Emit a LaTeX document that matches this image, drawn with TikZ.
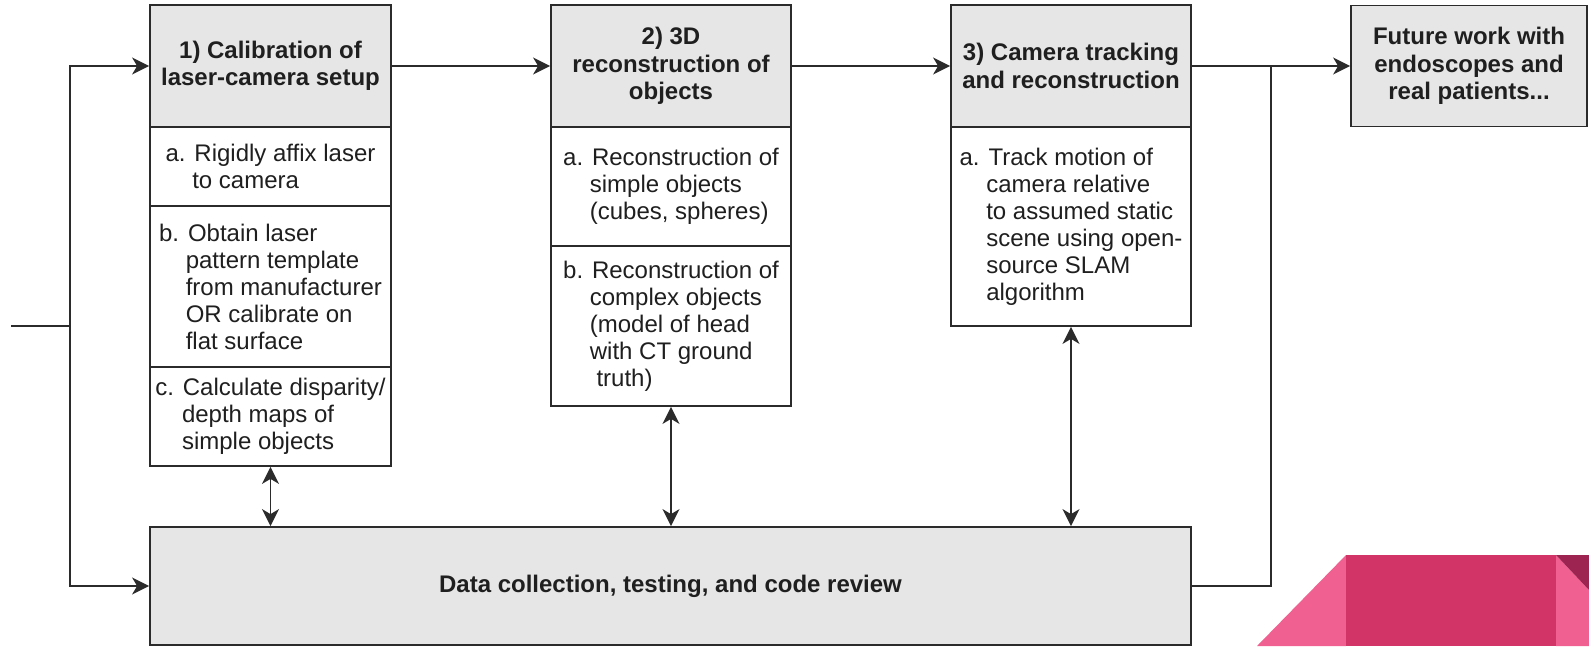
\documentclass[tikz,border=0pt]{standalone}
\usepackage{fontspec}
\setmainfont{Liberation Sans}
\usetikzlibrary{arrows.meta}
\definecolor{hdrgray}{HTML}{E6E6E6}
\definecolor{linegray}{HTML}{2B2B2B}
\definecolor{pinklight}{HTML}{F06090}
\definecolor{pinkmid}{HTML}{D23468}
\definecolor{pinkdark}{HTML}{9D2350}
\newcommand{\ind}{\hphantom{a.\ }}
\tikzset{
  boxbase/.style={draw=linegray, line width=1.8pt, rectangle, inner sep=2pt,
    font=\fontsize{24}{27}\selectfont, text=black!88},
  hdr/.style={boxbase, fill=hdrgray, align=center, font=\fontsize{24}{27.5}\selectfont\bfseries},
  sub/.style={boxbase, fill=white, align=left},
  conn/.style={draw=linegray, line width=1.8pt},
  tip/.tip={Stealth[length=17pt, width=17pt, inset=5pt]},
  arr/.style={conn, -tip},
  dblarr/.style={conn, tip-tip},
}
\begin{document}
\begin{tikzpicture}[x=1pt, y=-1pt]
\useasboundingbox (0,0) rectangle (1589,646);
% decorative ribbon
\fill[pinklight] (1257,646) -- (1346,555) -- (1346,646) -- cycle;
\fill[pinkmid] (1346,555) rectangle (1556,646);
\fill[pinklight] (1556,555) -- (1589,590) -- (1589,646) -- (1556,646) -- cycle;
\fill[pinkdark] (1556,555) -- (1589,555) -- (1589,590) -- cycle;

% box 1
\node[hdr, minimum width=241, minimum height=122] (h1) at (270.5,66) {1) Calibration of\\laser-camera setup};
\node[sub, minimum width=241, minimum height=79] (a1) at (270.5,166.5) {a. Rigidly affix laser\\\ind to camera};
\node[sub, minimum width=241, minimum height=161] (b1) at (270.5,286.5) {b. Obtain laser\\\ind pattern template\\\ind from manufacturer\\\ind OR calibrate on\\\ind flat surface};
\node[sub, minimum width=241, minimum height=99] (c1) at (270.5,416.5) {c. Calculate disparity/\\\ind depth maps of\\\ind simple objects};

% box 2
\node[hdr, minimum width=240, minimum height=122] (h2) at (671,66) {2) 3D\\reconstruction of\\objects};
\node[sub, minimum width=240, minimum height=119] (a2) at (671,186.5) {a. Reconstruction of\\\ind simple objects\\\ind (cubes, spheres)};
\node[sub, minimum width=240, minimum height=160] (b2) at (671,326) {b. Reconstruction of\\\ind complex objects\\\ind (model of head\\\ind with CT ground\\\ind\ truth)};

% box 3
\node[hdr, minimum width=240, minimum height=122] (h3) at (1071,66) {3) Camera tracking\\and reconstruction};
\node[sub, minimum width=240, minimum height=199] (a3) at (1071,226.5) {a. Track motion of\\\ind camera relative\\\ind to assumed static\\\ind scene using open-\\\ind source SLAM\\\ind algorithm};

% box 4
\node[hdr, minimum width=236, minimum height=121] (h4) at (1469,66) {Future work with\\endoscopes and\\real patients...};

% bottom box
\node[hdr, minimum width=1041, minimum height=118] (bot) at (670.5,586) {Data collection, testing, and code review};

% connectors
\coordinate (s) at (11,326);
\coordinate (j1) at (70,326);
\coordinate (j2) at (1271,66);
\draw[conn] (s) -- (j1);
\draw[arr] (j1) |- (h1.west);
\draw[arr] (j1) |- (bot.west);
\draw[arr] (h1.east) -- (h2.west);
\draw[arr] (h2.east) -- (h3.west);
\draw[arr] (h3.east) -- (h4.west);
\draw[conn] (bot.east) -| (j2);
\draw[dblarr] (c1.south) -- (c1.south |- bot.north);
\draw[dblarr] (b2.south) -- (b2.south |- bot.north);
\draw[dblarr] (a3.south) -- (a3.south |- bot.north);
\end{tikzpicture}
\end{document}
